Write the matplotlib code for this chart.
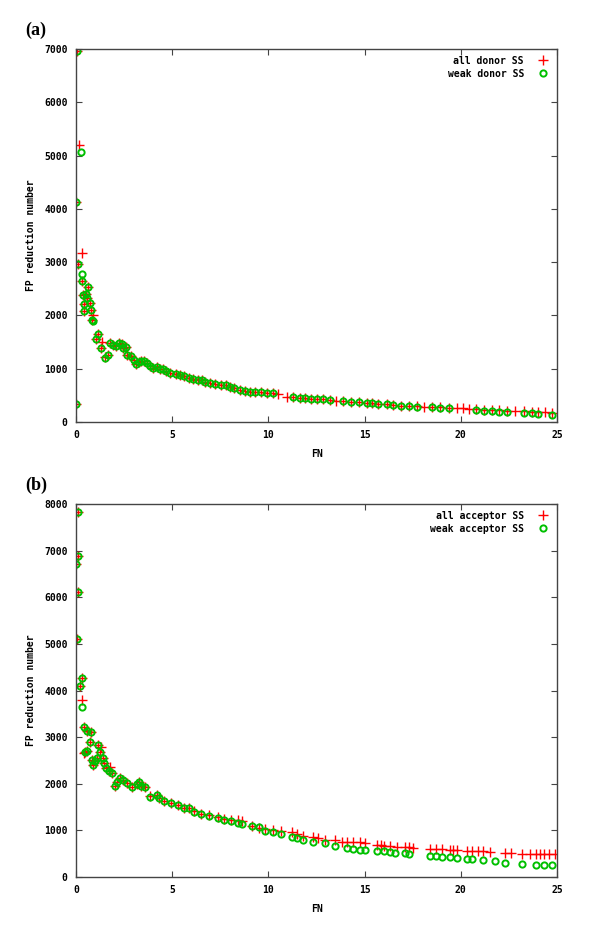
import matplotlib
matplotlib.use("Agg")
import matplotlib.pyplot as plt
from matplotlib.ticker import MultipleLocator


# panel (a): donor splice sites
donor_all_x = [0, 0, 0.05, 0.08, 0.17, 0.3, 0.31, 0.36, 0.43, 0.43, 0.52, 0.59, 0.64, 0.71, 0.78,
               0.9, 0.83, 1.04, 1.14, 1.28, 1.35, 1.52, 1.68, 1.76, 1.94, 2.07, 2.25, 2.37, 2.45,
               2.6, 2.67, 2.86, 3.03, 3.1, 3.25, 3.4, 3.55, 3.7, 3.85, 4.0, 4.2, 4.35, 4.5, 4.7,
               4.88, 5.18, 5.4, 5.6, 5.88, 6.1, 6.35, 6.55, 6.7, 6.95, 7.2, 7.55, 7.8, 8.0, 8.2,
               8.5, 8.8, 9.04, 9.3, 9.6, 9.9, 10.24, 10.5, 10.95, 11.3, 11.64, 11.9, 12.2, 12.5,
               12.84, 13.2, 13.5, 13.88, 14.3, 14.7, 15.11, 15.4, 15.7, 16.15, 16.5, 16.9, 17.3,
               17.71, 18.1, 18.5, 18.92, 19.4, 19.8, 20.1, 20.4, 20.8, 21.2, 21.6, 22.0, 22.4,
               22.8, 23.3, 23.7, 24.0, 24.4, 24.75]
donor_all_y = [330, 4130, 6960, 2960, 5200, 3180, 2650, 2380, 2220, 2090, 2400, 2330, 2540, 2230, 2100,
               2010, 1920, 1550, 1660, 1380, 1500, 1220, 1260, 1490, 1440, 1420, 1490, 1460, 1390,
               1400, 1250, 1230, 1160, 1080, 1120, 1150, 1150, 1100, 1050, 1010, 1040, 1000, 1000, 950,
               920, 900, 880, 860, 820, 810, 790, 780, 750, 730, 720, 700, 690, 650, 630,
               600, 580, 570, 560, 555, 550, 545, 530, 475, 470, 456, 450, 440, 435,
               425, 410, 400, 400, 380, 370, 362, 350, 340, 331, 320, 310, 305,
               300, 290, 280, 276, 265, 260, 257, 250, 240, 235, 230, 225, 215,
               205, 200, 195, 190, 185, 170]

donor_weak_x = [0, 0, 0.05, 0.08, 0.26, 0.31, 0.31, 0.36, 0.43, 0.43, 0.52, 0.59, 0.64, 0.71, 0.78,
                0.83, 0.9, 1.04, 1.14, 1.28, 1.52, 1.68, 1.76, 1.94, 2.07, 2.25, 2.37, 2.45,
                2.6, 2.67, 2.86, 3.03, 3.1, 3.25, 3.4, 3.55, 3.7, 3.85, 4.0, 4.2, 4.35, 4.5, 4.7,
                4.88, 5.18, 5.4, 5.6, 5.88, 6.1, 6.35, 6.55, 6.7, 6.95, 7.2, 7.55, 7.8, 8.0, 8.2,
                8.5, 8.8, 9.04, 9.3, 9.6, 9.9, 10.24, 11.3, 11.64, 11.9, 12.2, 12.5,
                12.84, 13.2, 13.88, 14.3, 14.7, 15.11, 15.4, 15.7, 16.15, 16.5, 16.9, 17.3,
                17.71, 18.5, 18.92, 19.4, 20.8, 21.2, 21.6, 22.0, 22.4,
                23.3, 23.7, 24.0, 24.75]
donor_weak_y = [330, 4130, 6960, 2960, 5070, 2780, 2650, 2380, 2220, 2090, 2400, 2330, 2540, 2230, 2100,
                1920, 1890, 1550, 1660, 1380, 1210, 1260, 1490, 1440, 1420, 1490, 1460, 1390,
                1400, 1250, 1230, 1160, 1080, 1120, 1150, 1150, 1100, 1050, 1010, 1040, 1000, 1000, 950,
                920, 900, 880, 860, 820, 810, 790, 780, 750, 730, 720, 700, 690, 650, 630,
                600, 580, 570, 560, 555, 550, 545, 470, 456, 450, 440, 435,
                425, 410, 400, 380, 370, 362, 350, 340, 331, 320, 305, 300,
                290, 275, 270, 257, 225, 215, 205, 195, 185,
                170, 160, 150, 135]

# panel (b): acceptor splice sites
acc_all_x = [0.0, 0.05, 0.09, 0.09, 0.12, 0.21, 0.29, 0.31, 0.42, 0.43, 0.46, 0.55, 0.59, 0.72, 0.76,
             0.81, 0.86, 0.99, 1.07, 1.16, 1.3, 1.25, 1.4, 1.47, 1.56, 1.7, 1.79, 1.85, 2.0, 2.11,
             2.28, 2.46, 2.67, 2.89, 3.15, 3.28, 3.4, 3.6, 3.86, 4.2, 4.33, 4.59, 4.94, 5.29, 5.63,
             5.89, 6.15, 6.49, 6.93, 7.37, 7.7, 8.05, 8.4, 8.65, 9.17, 9.5, 9.82, 10.25, 10.67,
             11.2, 11.5, 11.8, 12.3, 12.6, 12.94, 13.46, 13.8, 14.07, 14.4, 14.76, 15.0, 15.62,
             15.85, 16.0, 16.32, 16.7, 17.1, 17.3, 17.5, 18.4, 18.7, 19.0, 19.44, 19.6, 19.8,
             20.3, 20.6, 20.9, 21.17, 21.5, 22.3, 22.6, 23.2, 23.6, 23.9, 24.1, 24.3, 24.6, 24.9]
acc_all_y = [6720, 5110, 6120, 6880, 7830, 4100, 4260, 3800, 2650, 3210, 2690, 2710, 3140, 2900, 3110,
             2510, 2400, 2480, 2560, 2830, 2780, 2690, 2560, 2440, 2330, 2280, 2370, 2240, 1960, 2040,
             2130, 2090, 2010, 1940, 1990, 2040, 1960, 1920, 1740, 1760, 1690, 1620, 1580, 1550, 1490,
             1470, 1420, 1350, 1340, 1280, 1250, 1230, 1230, 1200, 1100, 1060, 1030, 1000, 990,
             965, 920, 880, 860, 830, 800, 786, 760, 750, 750, 750, 740, 693,
             680, 670, 658, 650, 643, 640, 630, 608, 600, 595, 586, 583, 580,
             558, 555, 552, 550, 545, 522, 520, 500, 500, 500, 498, 497, 495, 493]

acc_weak_x = [0.0, 0.05, 0.09, 0.09, 0.12, 0.21, 0.29, 0.32, 0.43, 0.46, 0.55, 0.59, 0.72, 0.76,
              0.81, 0.86, 0.99, 1.07, 1.16, 1.25, 1.4, 1.47, 1.56, 1.7, 1.85, 2.0, 2.11,
              2.28, 2.46, 2.67, 2.89, 3.15, 3.28, 3.4, 3.6, 3.86, 4.2, 4.33, 4.59, 4.94, 5.29, 5.63,
              5.89, 6.15, 6.49, 6.93, 7.37, 7.7, 8.05, 8.4, 8.65, 9.17, 9.5, 9.82, 10.25, 10.67,
              11.2, 11.5, 11.8, 12.3, 12.94, 13.46, 14.07, 14.4, 14.76, 15.0, 15.62,
              16.0, 16.32, 16.6, 17.1, 17.3, 18.4, 18.7, 19.0, 19.44, 19.8, 20.3, 20.6, 21.17,
              21.8, 22.3, 23.2, 23.9, 24.3, 24.76]
acc_weak_y = [6720, 5110, 6120, 6880, 7830, 4100, 4260, 3650, 3210, 2690, 2710, 3140, 2900, 3110,
              2510, 2400, 2480, 2560, 2830, 2690, 2560, 2440, 2330, 2280, 2240, 1960, 2040,
              2130, 2090, 2010, 1940, 1990, 2040, 1960, 1920, 1720, 1760, 1690, 1620, 1580, 1550, 1490,
              1470, 1400, 1350, 1310, 1260, 1220, 1200, 1165, 1140, 1100, 1080, 993, 972, 922,
              851, 830, 793, 757, 722, 665, 615, 600, 579, 570, 557,
              550, 529, 520, 507, 500, 450, 440, 435, 422, 410, 386, 380, 365,
              343, 293, 272, 257, 257, 257]

panels = [
    ("(a)", donor_all_x, donor_all_y, donor_weak_x, donor_weak_y,
     "all donor SS", "weak donor SS", 7000),
    ("(b)", acc_all_x, acc_all_y, acc_weak_x, acc_weak_y,
     "all acceptor SS", "weak acceptor SS", 8000),
]

mono = {"family": "DejaVu Sans Mono", "weight": "bold", "size": 7}

fig = plt.figure(figsize=(6, 9.31), dpi=100)
bottoms = [0.5467, 0.058]

for (tag, ax_, ay_, wx, wy, lab1, lab2, ymax), b in zip(panels, bottoms):
    ax = fig.add_axes([0.1267, b, 0.8017, 0.4006])
    ax.plot(ax_, ay_, ls="none", marker="+", color="#ff0000", ms=7, mew=1.0, label=lab1)
    ax.plot(wx, wy, ls="none", marker="o", mfc="none", mec="#00c000", ms=4.5, mew=1.4,
            label=lab2)
    ax.set_xlim(0, 25)
    ax.set_ylim(0, ymax)
    ax.xaxis.set_major_locator(MultipleLocator(5))
    ax.yaxis.set_major_locator(MultipleLocator(1000))
    ax.tick_params(direction="in", top=True, right=True, length=4, width=0.8,
                   color="#444444", pad=6)
    for lbl in ax.get_xticklabels() + ax.get_yticklabels():
        lbl.set_fontproperties(mono)
    for s in ax.spines.values():
        s.set_color("#444444")
        s.set_linewidth(1.0)
    ax.set_xlabel("FN", fontdict=mono, labelpad=6)
    ax.set_ylabel("FP reduction number", fontdict=mono, labelpad=6)
    ax.legend(loc="upper right", markerfirst=False, frameon=False, prop=mono,
              handlelength=1.5, handletextpad=1.2, borderaxespad=0.3, labelspacing=0.3)
    fig.text(0.042, b + 0.4006 + 0.02, tag, family="Liberation Serif", weight="bold",
             size=13, va="center", ha="left")

fig.savefig("out.png", dpi=100)
